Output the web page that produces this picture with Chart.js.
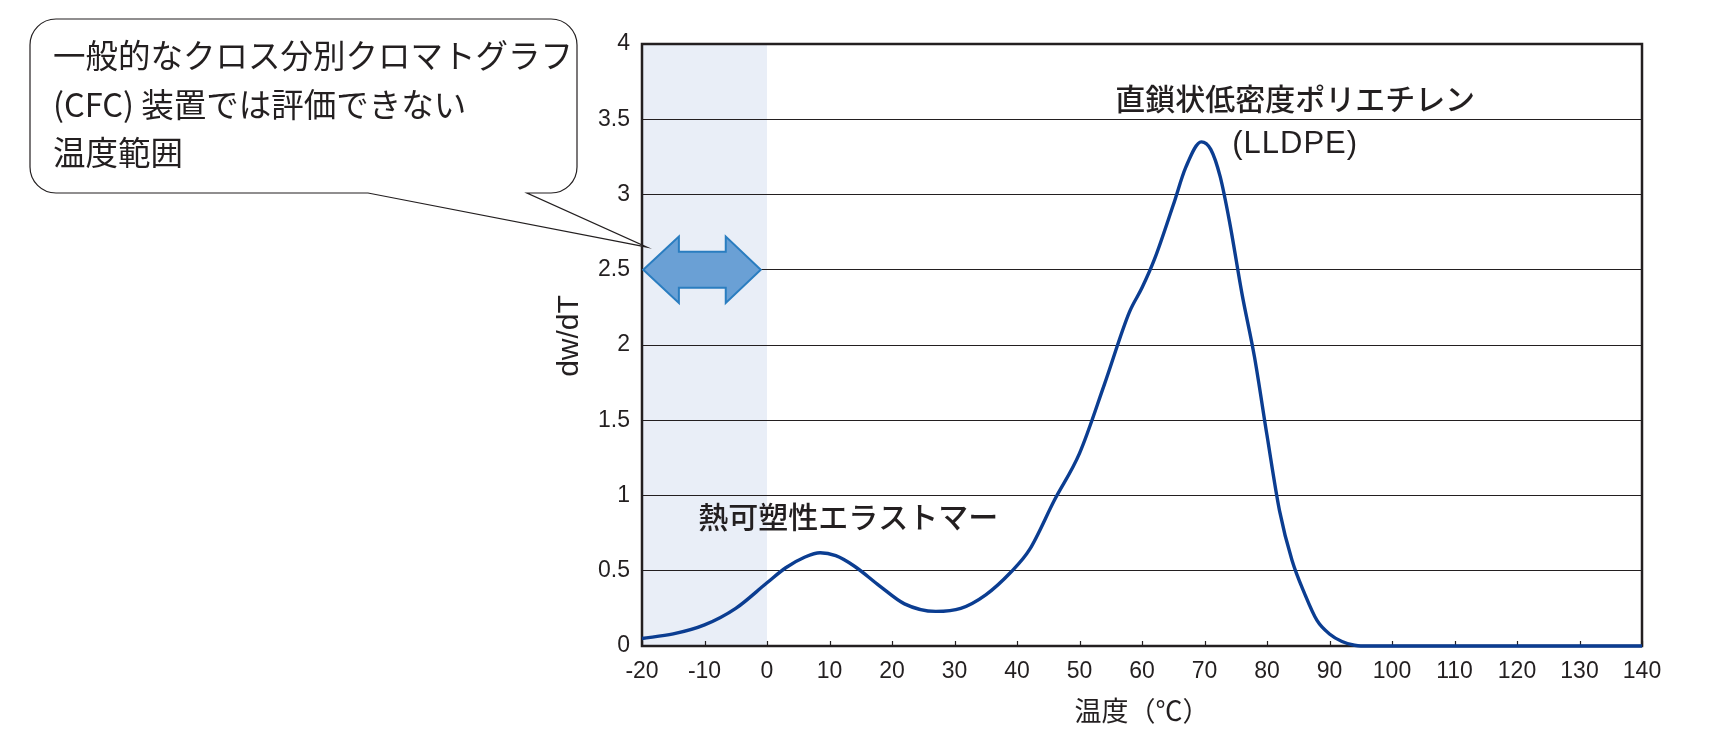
<!DOCTYPE html>
<html>
<head>
<meta charset="utf-8">
<script src="https://cdn.jsdelivr.net/npm/chart.js@4/dist/chart.umd.min.js"></script>
<style>
  html, body { margin: 0; padding: 0; background: #ffffff; }
  #wrap { width: 1722px; height: 743px; }
</style>
</head>
<body>
<div id="wrap"><canvas id="grafica" width="1722" height="743"></canvas></div>
<script>
// 温度 (℃) と dw/dT の読み取り値
const temps = [-20, -15, -10, -5, 0, 3, 6, 8.5, 11, 14, 18, 22, 27, 31, 35, 39, 42, 46, 50, 54, 58, 60, 62, 65, 67, 69.5, 71, 72.5, 74, 76, 78, 80, 82, 84, 86, 88, 90, 92, 94, 95, 100, 110, 120, 130, 140]
const dwdt = [0.05, 0.08, 0.14, 0.25, 0.42, 0.52, 0.59, 0.62, 0.60, 0.53, 0.40, 0.28, 0.23, 0.25, 0.34, 0.49, 0.64, 0.97, 1.28, 1.74, 2.22, 2.38, 2.57, 2.93, 3.18, 3.35, 3.30, 3.12, 2.82, 2.34, 1.92, 1.40, 0.90, 0.57, 0.35, 0.17, 0.08, 0.03, 0.005, 0, 0, 0, 0, 0, 0]

const xTicks = [-20, -10, 0, 10, 20, 30, 40, 50, 60, 70, 80, 90, 100, 110, 120, 130, 140]
const yTicks = [0, 0.5, 1, 1.5, 2, 2.5, 3, 3.5, 4]
const xTickLabels = ["-20", "-10", "0", "10", "20", "30", "40", "50", "60", "70", "80", "90", "100", "110", "120", "130", "140"]
const yTickLabels = ["0", "0.5", "1", "1.5", "2", "2.5", "3", "3.5", "4"]

// CFCで評価できない範囲
const shadeRange = [-20, 0]

const xTitle = "温度（℃）"
const yTitle = "dw/dT"
const lldpeLabel = ["直鎖状低密度ポリエチレン", "(LLDPE)"]
const tpeLabel = "熱可塑性エラストマー"
const calloutLines = ["一般的なクロス分別クロマトグラフ", "(CFC) 装置では評価できない", "温度範囲"]

const ink = "#231f20"
const jp = "'Noto Sans CJK JP', 'Noto Sans', sans-serif"
const num = "'Liberation Sans', Arial, sans-serif"

const decor = {
    id: "decor",

    beforeDraw(chart) {
        const ctx = chart.ctx
        const a = chart.chartArea
        const x = chart.scales.x
        ctx.save()
        ctx.fillStyle = "#e9eef7"
        const x0 = x.getPixelForValue(shadeRange[0])
        const x1 = x.getPixelForValue(shadeRange[1])
        ctx.fillRect(x0, a.top, x1 - x0, a.bottom - a.top)
        ctx.restore()
    },

    beforeDatasetsDraw(chart) {
        const ctx = chart.ctx
        const a = chart.chartArea
        const x = chart.scales.x
        ctx.save()
        ctx.strokeStyle = ink
        ctx.lineWidth = 1.2
        xTicks.forEach(function (t) {
            const px = Math.round(x.getPixelForValue(t)) + 0.5
            ctx.beginPath()
            ctx.moveTo(px, a.bottom)
            ctx.lineTo(px, a.bottom - 5)
            ctx.stroke()
        })
        ctx.lineWidth = 2.5
        ctx.strokeRect(a.left, a.top, a.right - a.left, a.bottom - a.top)
        ctx.restore()
    },

    afterDatasetsDraw(chart) {
        const ctx = chart.ctx
        const x = chart.scales.x
        const y = chart.scales.y

        // 両矢印
        const tipL = x.getPixelForValue(-19.8)
        const backL = x.getPixelForValue(-14.1)
        const backR = x.getPixelForValue(-6.6)
        const tipR = x.getPixelForValue(-1.0)
        const cy = y.getPixelForValue(2.5)
        const headH = y.getPixelForValue(2.5) - y.getPixelForValue(2.72)
        const shaftH = y.getPixelForValue(2.5) - y.getPixelForValue(2.62)
        ctx.save()
        ctx.beginPath()
        ctx.moveTo(tipL, cy)
        ctx.lineTo(backL, cy - headH)
        ctx.lineTo(backL, cy - shaftH)
        ctx.lineTo(backR, cy - shaftH)
        ctx.lineTo(backR, cy - headH)
        ctx.lineTo(tipR, cy)
        ctx.lineTo(backR, cy + headH)
        ctx.lineTo(backR, cy + shaftH)
        ctx.lineTo(backL, cy + shaftH)
        ctx.lineTo(backL, cy + headH)
        ctx.closePath()
        ctx.fillStyle = "#6aa0d5"
        ctx.fill()
        ctx.strokeStyle = "#2a7dc0"
        ctx.lineWidth = 2
        ctx.lineJoin = "miter"
        ctx.stroke()
        ctx.restore()
    },

    afterDraw(chart) {
        const ctx = chart.ctx
        const a = chart.chartArea
        const x = chart.scales.x
        const y = chart.scales.y
        ctx.save()
        ctx.fillStyle = ink

        // 軸タイトル
        ctx.font = "30px " + num
        ctx.textAlign = "center"
        ctx.textBaseline = "middle"
        ctx.save()
        ctx.translate(570, 336)
        ctx.rotate(-Math.PI / 2)
        ctx.fillText(yTitle, 0, 0)
        ctx.restore()

        ctx.font = "27px " + jp
        ctx.fillText(xTitle, (a.left + a.right) / 2, 711)

        // ラベル
        ctx.font = "500 30px " + jp
        ctx.fillText(lldpeLabel[0], x.getPixelForValue(84.5), y.getPixelForValue(3.64))
        ctx.font = "31px " + num
        ctx.letterSpacing = "1px"
        ctx.fillText(lldpeLabel[1], x.getPixelForValue(84.5), y.getPixelForValue(3.33))
        ctx.letterSpacing = "0px"
        ctx.font = "500 30px " + jp
        ctx.fillText(tpeLabel, x.getPixelForValue(13), y.getPixelForValue(0.86))

        // 吹き出し
        const L = 30, T = 19, R = 577, B = 193, r = 26
        const p1 = 368, p2 = 527
        const tx = x.getPixelForValue(-19.2)
        const ty = y.getPixelForValue(2.65)
        ctx.beginPath()
        ctx.moveTo(L + r, T)
        ctx.lineTo(R - r, T)
        ctx.arcTo(R, T, R, T + r, r)
        ctx.lineTo(R, B - r)
        ctx.arcTo(R, B, R - r, B, r)
        ctx.lineTo(p2, B)
        ctx.lineTo(tx, ty)
        ctx.lineTo(p1, B)
        ctx.lineTo(L + r, B)
        ctx.arcTo(L, B, L, B - r, r)
        ctx.lineTo(L, T + r)
        ctx.arcTo(L, T, L + r, T, r)
        ctx.closePath()
        ctx.fillStyle = "#ffffff"
        ctx.fill()
        ctx.strokeStyle = ink
        ctx.lineWidth = 1.2
        ctx.stroke()

        ctx.fillStyle = ink
        ctx.font = "32.5px " + jp
        ctx.textAlign = "left"
        calloutLines.forEach(function (line, i) {
            ctx.fillText(line, 53, 56 + i * 48.5)
        })
        ctx.restore()
    }
}

const ctx = document.getElementById("grafica").getContext("2d")

new Chart(ctx, {
    type: "line",
    data: {
        datasets: [{
            data: temps.map(function (t, i) { return { x: t, y: dwdt[i] } }),
            borderColor: "#0b3d91",
            borderWidth: 3.4,
            pointRadius: 0,
            cubicInterpolationMode: "monotone",
            tension: 0.4,
            clip: 6
        }]
    },
    options: {
        responsive: false,
        animation: false,
        events: [],
        layout: { padding: { top: 44, right: 80, left: 0, bottom: 0 } },
        plugins: {
            legend: { display: false },
            tooltip: { enabled: false }
        },
        scales: {
            x: {
                type: "linear",
                min: -20,
                max: 140,
                afterFit: function (s) { s.height = 97 },
                afterBuildTicks: function (s) { s.ticks = xTicks.map(function (v) { return { value: v } }) },
                grid: { display: false, drawTicks: false },
                border: { display: false },
                ticks: {
                    padding: 12,
                    color: ink,
                    font: { family: num, size: 23 },
                    maxRotation: 0,
                    callback: function (v) { return xTickLabels[xTicks.indexOf(v)] }
                }
            },
            y: {
                min: 0,
                max: 4,
                afterFit: function (s) { s.width = 642 },
                afterBuildTicks: function (s) { s.ticks = yTicks.map(function (v) { return { value: v } }) },
                grid: { color: ink, lineWidth: 1, drawTicks: false },
                border: { display: false },
                ticks: {
                    padding: 12,
                    color: ink,
                    font: { family: num, size: 23 },
                    callback: function (v) { return yTickLabels[yTicks.indexOf(v)] }
                }
            }
        }
    },
    plugins: [decor]
})
</script>
</body>
</html>
